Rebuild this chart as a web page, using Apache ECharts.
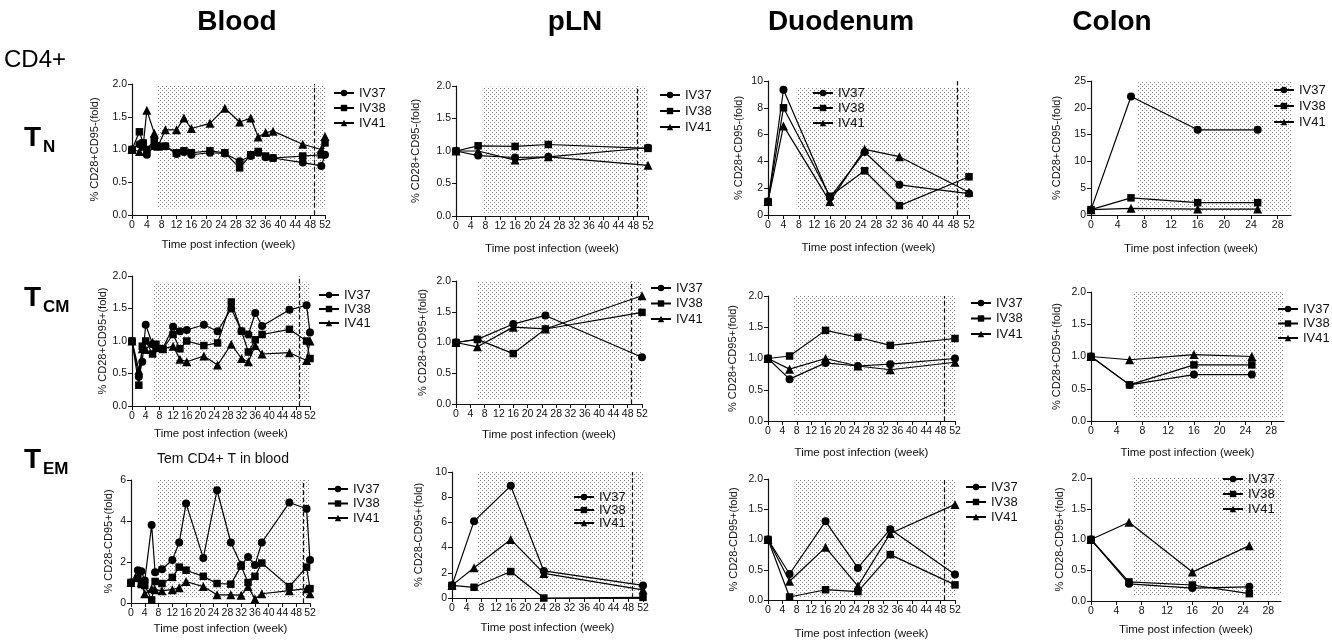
<!DOCTYPE html>
<html><head><meta charset="utf-8">
<script src="https://cdn.jsdelivr.net/npm/echarts@6/dist/echarts.min.js"></script>
<style>html,body{margin:0;padding:0;background:#fff}#c{width:1332px;height:641px}</style>
</head><body><div id="c"></div>
<script>
// ---------- DATA ----------
const animals = ['IV37', 'IV38', 'IV41'];
const columnTitles = ['Blood', 'pLN', 'Duodenum', 'Colon'];
const rowLabels = [['T', 'N'], ['T', 'CM'], ['T', 'EM']];
const yNames = ['% CD28+CD95-(fold)', '% CD28+CD95+(fold)', '% CD28-CD95+(fold)'];
const xName = 'Time post infection (week)';
const bloodTemTitle = 'Tem CD4+ T in blood';

const weeksBlood = [0, 2, 3, 4, 6, 7, 9, 12, 14, 16, 21, 25, 29, 32, 34, 36, 38, 46, 51, 52];
const weeksPLN = [0, 6, 16, 25, 52];
const weeksDuoTN = [0, 4, 16, 25, 34, 52];
const weeksDuo = [0, 6, 16, 25, 34, 52];
const weeksColon = [0, 6, 16, 25];

// T_N
const bloodTN37 = [1.0, 1.08, 1.1, 0.92, 1.05, 1.05, 1.05, 0.93, 0.96, 0.92, 0.95, 0.94, 0.82, 0.9, 0.95, 0.88, 0.87, 0.8, 0.75, 0.92];
const bloodTN38 = [1.0, 1.27, 1.1, 1.0, 1.15, 1.05, 1.05, 0.95, 0.98, 0.95, 0.98, 0.95, 0.72, 0.92, 0.97, 0.9, 0.87, 0.9, 0.92, 1.1];
const bloodTN41 = [1.0, 0.97, 1.05, 1.6, 1.25, 1.05, 1.3, 1.3, 1.48, 1.32, 1.4, 1.63, 1.42, 1.48, 1.19, 1.26, 1.28, 1.08, 1.0, 1.2];
const plnTN37 = [1.0, 0.93, 0.9, 0.91, 1.05];
const plnTN38 = [1.0, 1.08, 1.07, 1.1, 1.04];
const plnTN41 = [1.0, 1.0, 0.86, 0.91, 0.78];
const duoTN37 = [1.0, 9.35, 1.3, 4.7, 2.25, 1.6];
const duoTN38 = [1.0, 8.0, 1.4, 3.3, 0.7, 2.85];
const duoTN41 = [1.0, 6.65, 1.0, 4.9, 4.35, 1.7];
const colonTN37 = [1.0, 22.1, 15.9, 15.9];
const colonTN38 = [1.0, 3.2, 2.3, 2.3];
const colonTN41 = [1.0, 1.25, 1.1, 1.1];

// T_CM
const bloodCM37 = [1.0, 0.45, 0.68, 1.25, 0.95, 0.9, 0.88, 1.22, 1.15, 1.17, 1.25, 1.15, 1.5, 1.15, 1.1, 1.43, 1.23, 1.48, 1.55, 1.13];
const bloodCM38 = [1.0, 0.32, 0.92, 1.0, 0.8, 0.95, 0.88, 1.1, 0.88, 1.0, 0.93, 0.97, 1.6, 1.15, 0.83, 1.02, 1.1, 1.18, 1.0, 0.73];
const bloodCM41 = [1.0, 0.55, 0.88, 0.87, 0.98, 0.9, 0.88, 0.92, 0.72, 0.68, 0.77, 0.63, 0.95, 0.73, 0.68, 0.93, 0.8, 0.82, 0.7, 1.0];
const plnCM37 = [1.0, 1.05, 1.3, 1.44, 0.76];
const plnCM38 = [1.0, 1.05, 0.82, 1.22, 1.49];
const plnCM41 = [1.0, 0.93, 1.25, 1.22, 1.76];
const duoCM37 = [1.0, 0.67, 0.93, 0.88, 0.91, 1.0];
const duoCM38 = [1.0, 1.04, 1.45, 1.34, 1.21, 1.32];
const duoCM41 = [1.0, 0.83, 1.0, 0.88, 0.82, 0.94];
const colonCM37 = [1.0, 0.56, 0.72, 0.72];
const colonCM38 = [1.0, 0.56, 0.87, 0.87];
const colonCM41 = [1.0, 0.95, 1.03, 1.0];

// T_EM
const bloodEM37 = [1.0, 1.6, 1.55, 1.1, 3.8, 1.5, 1.65, 2.1, 2.95, 4.85, 2.2, 5.5, 2.95, 1.85, 2.25, 1.85, 2.95, 4.9, 4.6, 2.1];
const bloodEM38 = [1.0, 1.2, 0.9, 0.85, 0.15, 1.05, 0.95, 1.25, 1.75, 1.6, 1.3, 0.95, 0.92, 1.8, 1.0, 1.3, 1.95, 0.8, 1.75, 0.7];
const bloodEM41 = [1.0, 1.3, 1.0, 0.45, 0.7, 0.65, 0.6, 0.65, 0.75, 1.05, 0.8, 0.4, 0.4, 0.38, 0.8, 0.2, 0.45, 0.6, 0.7, 0.45];
const plnEM37 = [1.0, 6.1, 8.9, 2.15, 1.0];
const plnEM38 = [1.0, 0.85, 2.1, 0.0, 0.05];
const plnEM41 = [1.0, 2.4, 4.65, 1.95, 0.65];
const duoEM37 = [1.0, 0.43, 1.3, 0.53, 1.17, 0.42];
const duoEM38 = [1.0, 0.05, 0.17, 0.14, 0.75, 0.25];
const duoEM41 = [1.0, 0.31, 0.87, 0.23, 1.1, 1.58];
const colonEM37 = [1.0, 0.28, 0.21, 0.23];
const colonEM38 = [1.0, 0.31, 0.26, 0.12];
const colonEM41 = [1.0, 1.28, 0.47, 0.9];

// axis ranges per panel: [xMax, yMax, yInterval]
const axisRanges = [
  [52, 2, 0.5], [52, 2, 0.5], [52, 10, 2], [30, 25, 5],
  [52, 2, 0.5], [52, 2, 0.5], [52, 2, 0.5], [30, 2, 0.5],
  [52, 6, 2], [52, 10, 2], [52, 2, 0.5], [30, 2, 0.5]
];
const xTicksLong = [0, 4, 8, 12, 16, 20, 24, 28, 32, 36, 40, 44, 48, 52];
const xTicksShort = [0, 4, 8, 12, 16, 20, 24, 28];
// shaded (post-infection) period per panel: [weekFrom, weekTo, yFrom, yTo]
const shadeRegions = [
  [6.8, 54.4, 0.1, 1.98], [7.2, 56, 0.05, 1.99], [7.4, 54.3, 0.35, 9.55], [6.9, 35, 0.8, 26.3],
  [6.1, 55, 0.06, 1.9], [6, 55.6, 0.07, 2.14], [7.2, 53.3, 0.08, 2.1], [6.6, 35, 0.05, 2.07],
  [7.5, 59.5, 0.24, 6.25], [6.9, 56, 0.45, 10.1], [7.3, 60, 0.04, 2.1], [6.7, 37, 0.08, 2.1]
];
const dashWeek = [49, 49, 49, null, 49, 49, 49, null, 50, 49, 49, null];

// ---------- LAYOUT (pixels) ----------
// [left, top, width, height, yNameGap, xNameGap]
const layout = [
  [132, 84, 193, 131, 32, 24],
  [456, 86, 192, 130, 35, 27],
  [768, 81, 201, 134, 24, 27],
  [1091, 81, 200, 134, 29, 28],
  [132, 276, 178, 130, 24, 22],
  [456, 281, 186, 123, 28, 25],
  [768, 296, 187, 125, 30, 26],
  [1091, 292, 193, 129, 29, 26],
  [131, 480, 179, 123, 17, 20],
  [452, 472, 191, 126, 28, 24],
  [768, 479, 187, 124, 29, 28],
  [1091, 478, 190, 123, 26, 23]
];
// legend: [symbol centre x, first item centre y, item spacing]
const legendPos = [
  [343, 93, 15], [669, 95, 16], [822, 93, 15], [1283, 90, 16],
  [328, 295, 14], [660, 288, 15.5], [980, 303, 15.5], [1287, 309, 14.5],
  [337, 489, 14.5], [583, 497, 13], [975, 487, 15], [1232, 479, 15]
];
const LEGEND_ITEM_H = 13;

const FONT = "'Liberation Sans', Arial, Helvetica, sans-serif";
const symbols = ['circle', 'rect', 'triangle'];
const symbolSizes = [8, 7.5, 9];

const panelWeeks = [weeksBlood, weeksPLN, weeksDuoTN, weeksColon,
                    weeksBlood, weeksPLN, weeksDuo, weeksColon,
                    weeksBlood, weeksPLN, weeksDuo, weeksColon];
const panelValues = [
  [bloodTN37, bloodTN38, bloodTN41], [plnTN37, plnTN38, plnTN41], [duoTN37, duoTN38, duoTN41], [colonTN37, colonTN38, colonTN41],
  [bloodCM37, bloodCM38, bloodCM41], [plnCM37, plnCM38, plnCM41], [duoCM37, duoCM38, duoCM41], [colonCM37, colonCM38, colonCM41],
  [bloodEM37, bloodEM38, bloodEM41], [plnEM37, plnEM38, plnEM41], [duoEM37, duoEM38, duoEM41], [colonEM37, colonEM38, colonEM41]
];

// dotted pattern
const pc = document.createElement('canvas');
pc.width = 4; pc.height = 4;
const pg = pc.getContext('2d');
pg.fillStyle = '#808080';
pg.fillRect(0, 0, 1, 1);
pg.fillRect(2, 2, 1, 1);
const dotPattern = { image: pc, repeat: 'repeat' };

const grids = [], xAxes = [], yAxes = [], series = [], legends = [];
for (let p = 0; p < 12; p++) {
  const L = layout[p];
  const [xMax, yMax, yInt] = axisRanges[p];
  const row = Math.floor(p / 4);
  grids.push({ left: L[0], top: L[1], width: L[2], height: L[3], containLabel: false });
  const ticks = xMax === 52 ? xTicksLong : xTicksShort;
  xAxes.push({
    type: 'value', gridIndex: p, min: 0, max: xMax, interval: 4,
    name: xName, nameLocation: 'middle', nameGap: L[5],
    nameTextStyle: { fontFamily: FONT, fontSize: 11.5, color: '#111' },
    axisLine: { lineStyle: { color: '#111', width: 1.2 } },
    axisTick: { length: 4, lineStyle: { color: '#111' }, customValues: ticks },
    axisLabel: { fontFamily: FONT, fontSize: 10.5, color: '#111', margin: 5, customValues: ticks },
    splitLine: { show: false }
  });
  yAxes.push({
    type: 'value', gridIndex: p, min: 0, max: yMax, interval: yInt,
    name: yNames[row], nameLocation: 'middle', nameGap: L[4], nameRotate: 90,
    nameTextStyle: { fontFamily: FONT, fontSize: 11, color: '#111' },
    axisLine: { show: true, lineStyle: { color: '#111', width: 1.2 } },
    axisTick: { show: true, length: 4, lineStyle: { color: '#111' } },
    axisLabel: {
      fontFamily: FONT, fontSize: 10.5, color: '#111', margin: 5,
      formatter: v => (yInt < 1 ? v.toFixed(1) : String(v))
    },
    splitLine: { show: false }
  });
  const sh = shadeRegions[p];
  for (let a = 0; a < 3; a++) {
    const s = {
      name: animals[a], type: 'line', xAxisIndex: p, yAxisIndex: p,
      data: panelWeeks[p].map((w, i) => [w, panelValues[p][a][i]]),
      symbol: symbols[a], symbolSize: symbolSizes[a], showAllSymbol: true,
      itemStyle: { color: '#000' }, lineStyle: { color: '#000', width: 1.2 },
      clip: false, animation: false, silent: true
    };
    if (a === 0) {
      s.markArea = {
        silent: true, itemStyle: { color: dotPattern },
        data: [[{ xAxis: sh[0], yAxis: sh[2] }, { xAxis: sh[1], yAxis: sh[3] }]]
      };
      if (dashWeek[p] !== null) {
        s.markLine = {
          silent: true, symbol: ['none', 'none'], label: { show: false },
          lineStyle: { type: 'dashed', color: '#111', width: 1.2 },
          data: [{ xAxis: dashWeek[p] }]
        };
      }
    }
    series.push(s);
  }
  const lg = legendPos[p];
  legends.push({
    orient: 'vertical', left: lg[0] - 10, top: lg[1] - LEGEND_ITEM_H / 2,
    itemGap: lg[2] - LEGEND_ITEM_H, padding: 0,
    itemWidth: 20, itemHeight: 8, selectedMode: false,
    textStyle: { fontFamily: FONT, fontSize: 13, color: '#111' },
    data: animals
  });
}

const colCenters = [237, 575, 841, 1112];
const graphics = [];
columnTitles.forEach((t, i) => graphics.push({
  type: 'text', x: colCenters[i], y: 22,
  style: { text: t, textAlign: 'center', textVerticalAlign: 'middle', font: 'bold 28px ' + FONT, fill: '#000' }
}));
graphics.push({ type: 'text', x: 4, y: 60, style: { text: 'CD4+', textVerticalAlign: 'middle', font: '24px ' + FONT, fill: '#000' } });
const rowY = [138, 298, 460];
rowLabels.forEach((r, i) => {
  graphics.push({ type: 'text', x: 24, y: rowY[i], style: { text: r[0], textVerticalAlign: 'middle', font: 'bold 28px ' + FONT, fill: '#000' } });
  graphics.push({ type: 'text', x: 43, y: rowY[i] + 9, style: { text: r[1], textVerticalAlign: 'middle', font: 'bold 17px ' + FONT, fill: '#000' } });
});
graphics.push({ type: 'text', x: 223, y: 459, style: { text: bloodTemTitle, textAlign: 'center', textVerticalAlign: 'middle', font: '14px ' + FONT, fill: '#111' } });

const chart = echarts.init(document.getElementById('c'), null, { renderer: 'canvas' });
chart.setOption({
  animation: false,
  backgroundColor: '#fff',
  grid: grids, xAxis: xAxes, yAxis: yAxes, series: series, legend: legends,
  graphic: graphics
});
</script>
</body></html>
